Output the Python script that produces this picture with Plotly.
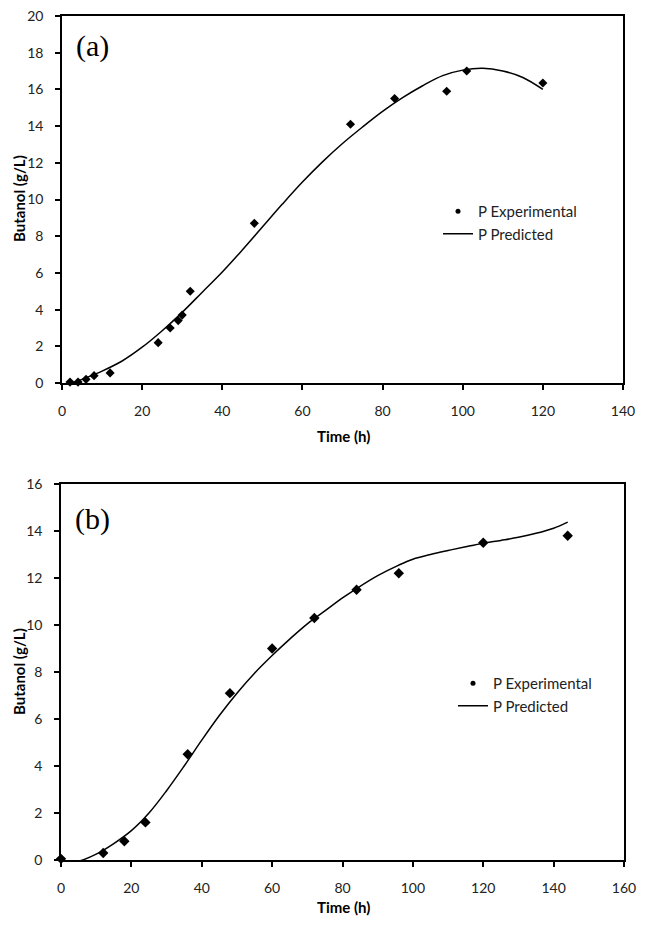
import plotly.graph_objects as go

# (a) Messwerte
t_a = [2, 4, 6, 8, 12, 24, 27, 29, 30, 32, 48, 72, 83, 96, 101, 120]
p_a = [0.05, 0.05, 0.2, 0.4, 0.55, 2.2, 3.0, 3.4, 3.7, 5.0, 8.7, 14.1, 15.5, 15.9, 17.0, 16.35]

# (a) Modellkurve
t_a_fit = [0, 5, 10, 15, 20, 25, 30, 35, 40, 45, 50, 55, 60, 65, 70, 75, 80, 85, 90, 95, 100, 105, 110, 115, 120]
p_a_fit = [-0.2, 0.2, 0.65, 1.2, 1.95, 2.85, 3.85, 4.95, 6.05, 7.25, 8.5, 9.75, 10.95, 12.05, 13.05,
           13.95, 14.8, 15.55, 16.2, 16.75, 17.05, 17.15, 17.0, 16.65, 16.0]

# (b) Messwerte
t_b = [0, 12, 18, 24, 36, 48, 60, 72, 84, 96, 120, 144]
p_b = [0.05, 0.3, 0.8, 1.6, 4.5, 7.1, 9.0, 10.3, 11.5, 12.2, 13.5, 13.8]

# (b) Modellkurve
t_b_fit = [0, 5, 10, 15, 20, 25, 30, 35, 40, 45, 50, 55, 60, 65, 70, 75, 80, 84, 90, 96, 100,
           105, 110, 115, 120, 125, 130, 135, 140, 144]
p_b_fit = [-0.1, -0.05, 0.25, 0.7, 1.25, 2.0, 2.95, 4.0, 5.1, 6.15, 7.1, 7.95, 8.7, 9.4, 10.05, 10.6,
           11.15, 11.55, 12.1, 12.55, 12.8, 13.0, 13.17, 13.33, 13.48, 13.6, 13.73, 13.9, 14.12, 14.38]

# Seite hat 8px Rand -> Figur kleiner (keine Scrollbalken), Pixelpositionen umrechnen
W, H, RAND = 629, 912, 8
def px_x(v):
    return (v - RAND) / W
def px_y(v):
    return 1 - (v - RAND) / H

schrift = "Lato"
fig = go.Figure()

def panel(t, p, t_fit, p_fit, xa, ya, leg, msize):
    fig.add_trace(go.Scatter(x=t, y=p, mode="markers", xaxis=xa, yaxis=ya,
                             marker=dict(symbol="diamond", size=msize, color="black"),
                             cliponaxis=False, showlegend=False))
    fig.add_trace(go.Scatter(x=[None], y=[None], mode="markers", xaxis=xa, yaxis=ya,
                             marker=dict(symbol="circle", size=5, color="black"),
                             name="P Experimental", legend=leg))
    fig.add_trace(go.Scatter(x=t_fit, y=p_fit, mode="lines", xaxis=xa, yaxis=ya,
                             line=dict(color="black", width=1.5, shape="spline"),
                             name="P Predicted", legend=leg))

panel(t_a, p_a, t_a_fit, p_a_fit, "x", "y", "legend", 7)
panel(t_b, p_b, t_b_fit, p_b_fit, "x2", "y2", "legend2", 8)

achse = dict(showline=True, linecolor="black", linewidth=1.5, mirror=True, ticks="outside",
             ticklen=5, tickwidth=1.5, tickcolor="black", showgrid=False, zeroline=False,
             automargin=False, ticklabeloverflow="allow", ticklabelstandoff=9,
             tickfont=dict(family=schrift, size=14, color="#222"))
titel = dict(family=schrift, size=15, color="black", weight="bold")
serif = dict(family="Liberation Serif", size=30, color="black")

def text(t, x, y, font, winkel=0):
    return dict(text=t, x=px_x(x), y=px_y(y), xref="paper", yref="paper", showarrow=False,
                xanchor="center", yanchor="middle", textangle=winkel, font=font)

fig.update_layout(
    width=W, height=H, margin=dict(l=0, r=0, t=0, b=0),
    plot_bgcolor="white", paper_bgcolor="white",
    xaxis=dict(achse, domain=[px_x(62), px_x(623)], range=[0, 140], dtick=20, anchor="y"),
    yaxis=dict(achse, domain=[px_y(383), px_y(16)], range=[0, 20], dtick=2, anchor="x"),
    xaxis2=dict(achse, domain=[px_x(61), px_x(624)], range=[0, 160], dtick=20, anchor="y2"),
    yaxis2=dict(achse, domain=[px_y(860), px_y(484)], range=[0, 16], dtick=2, anchor="x2"),
    legend=dict(x=px_x(438), y=px_y(195), xanchor="left", yanchor="top",
                font=dict(family=schrift, size=15, color="#222"), bgcolor="rgba(0,0,0,0)"),
    legend2=dict(x=px_x(453), y=px_y(667), xanchor="left", yanchor="top",
                 font=dict(family=schrift, size=15, color="#222"), bgcolor="rgba(0,0,0,0)"),
    annotations=[
        text("(a)", 92, 46, serif),
        text("(b)", 92, 519, serif),
        text("Time (h)", 343, 436, titel),
        text("Time (h)", 343, 907, titel),
        text("Butanol (g/L)", 19, 199, titel, -90),
        text("Butanol (g/L)", 19, 672, titel, -90),
    ],
)

fig.write_html("out.html")
